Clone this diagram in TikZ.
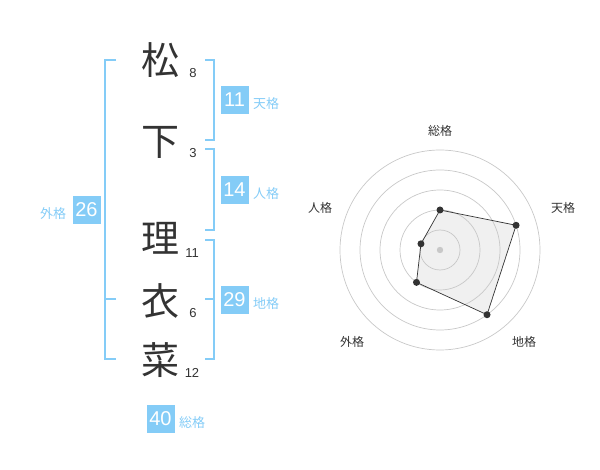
\documentclass[tikz,border=0pt]{standalone}
\usepackage{fontspec}
\setmainfont{Liberation Sans}
\newfontfamily\jfont{Noto Sans CJK JP}
\definecolor{kakublue}{HTML}{84CCF7}
\definecolor{inkgray}{HTML}{333333}
\definecolor{ringgray}{HTML}{C8C8C8}

\begin{document}
\begin{tikzpicture}[x=1pt, y=-1pt, line join=round, line cap=round,
    kanji/.style={font=\jfont\fontsize{38}{38}\selectfont, text=inkgray, inner sep=0pt},
    strokes/.style={font=\fontsize{13}{13}\selectfont, text=inkgray, inner sep=0pt},
    kakubox/.style={fill=kakublue, text=white, font=\fontsize{20}{20}\selectfont,
        minimum width=28pt, minimum height=28pt, inner sep=0pt},
    kakuname/.style={font=\jfont\fontsize{13}{13}\selectfont, text=kakublue, inner sep=0pt},
    bracket/.style={draw=kakublue, line width=2pt, line cap=butt, line join=miter},
    axisname/.style={font=\jfont\fontsize{12}{12}\selectfont, text=inkgray, inner sep=0pt}]
    \useasboundingbox (0,0) rectangle (600,470);

    % name and stroke counts
    \node[kanji] (k1) at (160,60) {松};
    \node[kanji] (k2) at (160,142) {下};
    \node[kanji] (k3) at (160,238) {理};
    \node[kanji] (k4) at (160,301) {衣};
    \node[kanji] (k5) at (160,360) {菜};
    \node[strokes] (s1) at (193,73) {8};
    \node[strokes] (s2) at (193,153) {3};
    \node[strokes] (s3) at (192,253) {11};
    \node[strokes] (s4) at (193,313) {6};
    \node[strokes] (s5) at (192,373) {12};

    % brackets
    \coordinate (T1) at (205,60);   \coordinate (T2) at (214,60);
    \coordinate (T3) at (214,140);  \coordinate (T4) at (205,140);
    \coordinate (J1) at (205,149);  \coordinate (J2) at (214,149);
    \coordinate (J3) at (214,230);  \coordinate (J4) at (205,230);
    \coordinate (C1) at (205,240);  \coordinate (C2) at (214,240);
    \coordinate (C3) at (214,359);  \coordinate (C4) at (205,359);
    \coordinate (C5) at (205,299.5); \coordinate (C6) at (214,299.5);
    \coordinate (G1) at (116,60);   \coordinate (G2) at (105,60);
    \coordinate (G3) at (105,359);  \coordinate (G4) at (116,359);
    \coordinate (G5) at (116,299.5); \coordinate (G6) at (105,299.5);

    \draw[bracket] (T1)--(T2)--(T3)--(T4);
    \draw[bracket] (J1)--(J2)--(J3)--(J4);
    \draw[bracket] (C1)--(C2)--(C3)--(C4);
    \draw[bracket] (C5)--(C6);
    \draw[bracket] (G1)--(G2)--(G3)--(G4);
    \draw[bracket] (G5)--(G6);

    % scores
    \node[kakubox] (bTen) at (234.5,100) {11};
    \node[kakubox] (bJin) at (234.5,190) {14};
    \node[kakubox] (bChi) at (234.5,300) {29};
    \node[kakubox] (bGai) at (86.5,210) {26};
    \node[kakubox] (bSou) at (160.5,419) {40};
    \node[kakuname] (lTen) at (266,104) {天格};
    \node[kakuname] (lJin) at (266,194) {人格};
    \node[kakuname] (lChi) at (266,304) {地格};
    \node[kakuname] (lGai) at (53,214) {外格};
    \node[kakuname] (lSou) at (192,423) {総格};

    % radar chart
    \begin{scope}[shift={(440,250)}, y=1pt]
        \coordinate (O) at (0,0);
        \coordinate (pSou) at (90:40);
        \coordinate (pTen) at (18:80);
        \coordinate (pChi) at (-54:80);
        \coordinate (pGai) at (-126:40);
        \coordinate (pJin) at (162:20);

        \fill[black!6] (pSou)--(pTen)--(pChi)--(pGai)--(pJin)--cycle;
        \foreach \r in {20,40,...,100}
            \draw[ringgray, line width=0.7pt] (O) circle (\r);
        \fill[ringgray] (O) circle (3.2);
        \draw[inkgray, line width=0.7pt] (pSou)--(pTen)--(pChi)--(pGai)--(pJin)--cycle;
        \foreach \p in {pSou,pTen,pChi,pGai,pJin}
            \fill[inkgray] (\p) circle (3.5);

        \node[axisname] (aSou) at (0,119) {総格};
        \node[axisname] (aTen) at (123,42) {天格};
        \node[axisname] (aChi) at (84,-92) {地格};
        \node[axisname] (aGai) at (-88,-92) {外格};
        \node[axisname] (aJin) at (-120,42) {人格};
    \end{scope}
\end{tikzpicture}
\end{document}
